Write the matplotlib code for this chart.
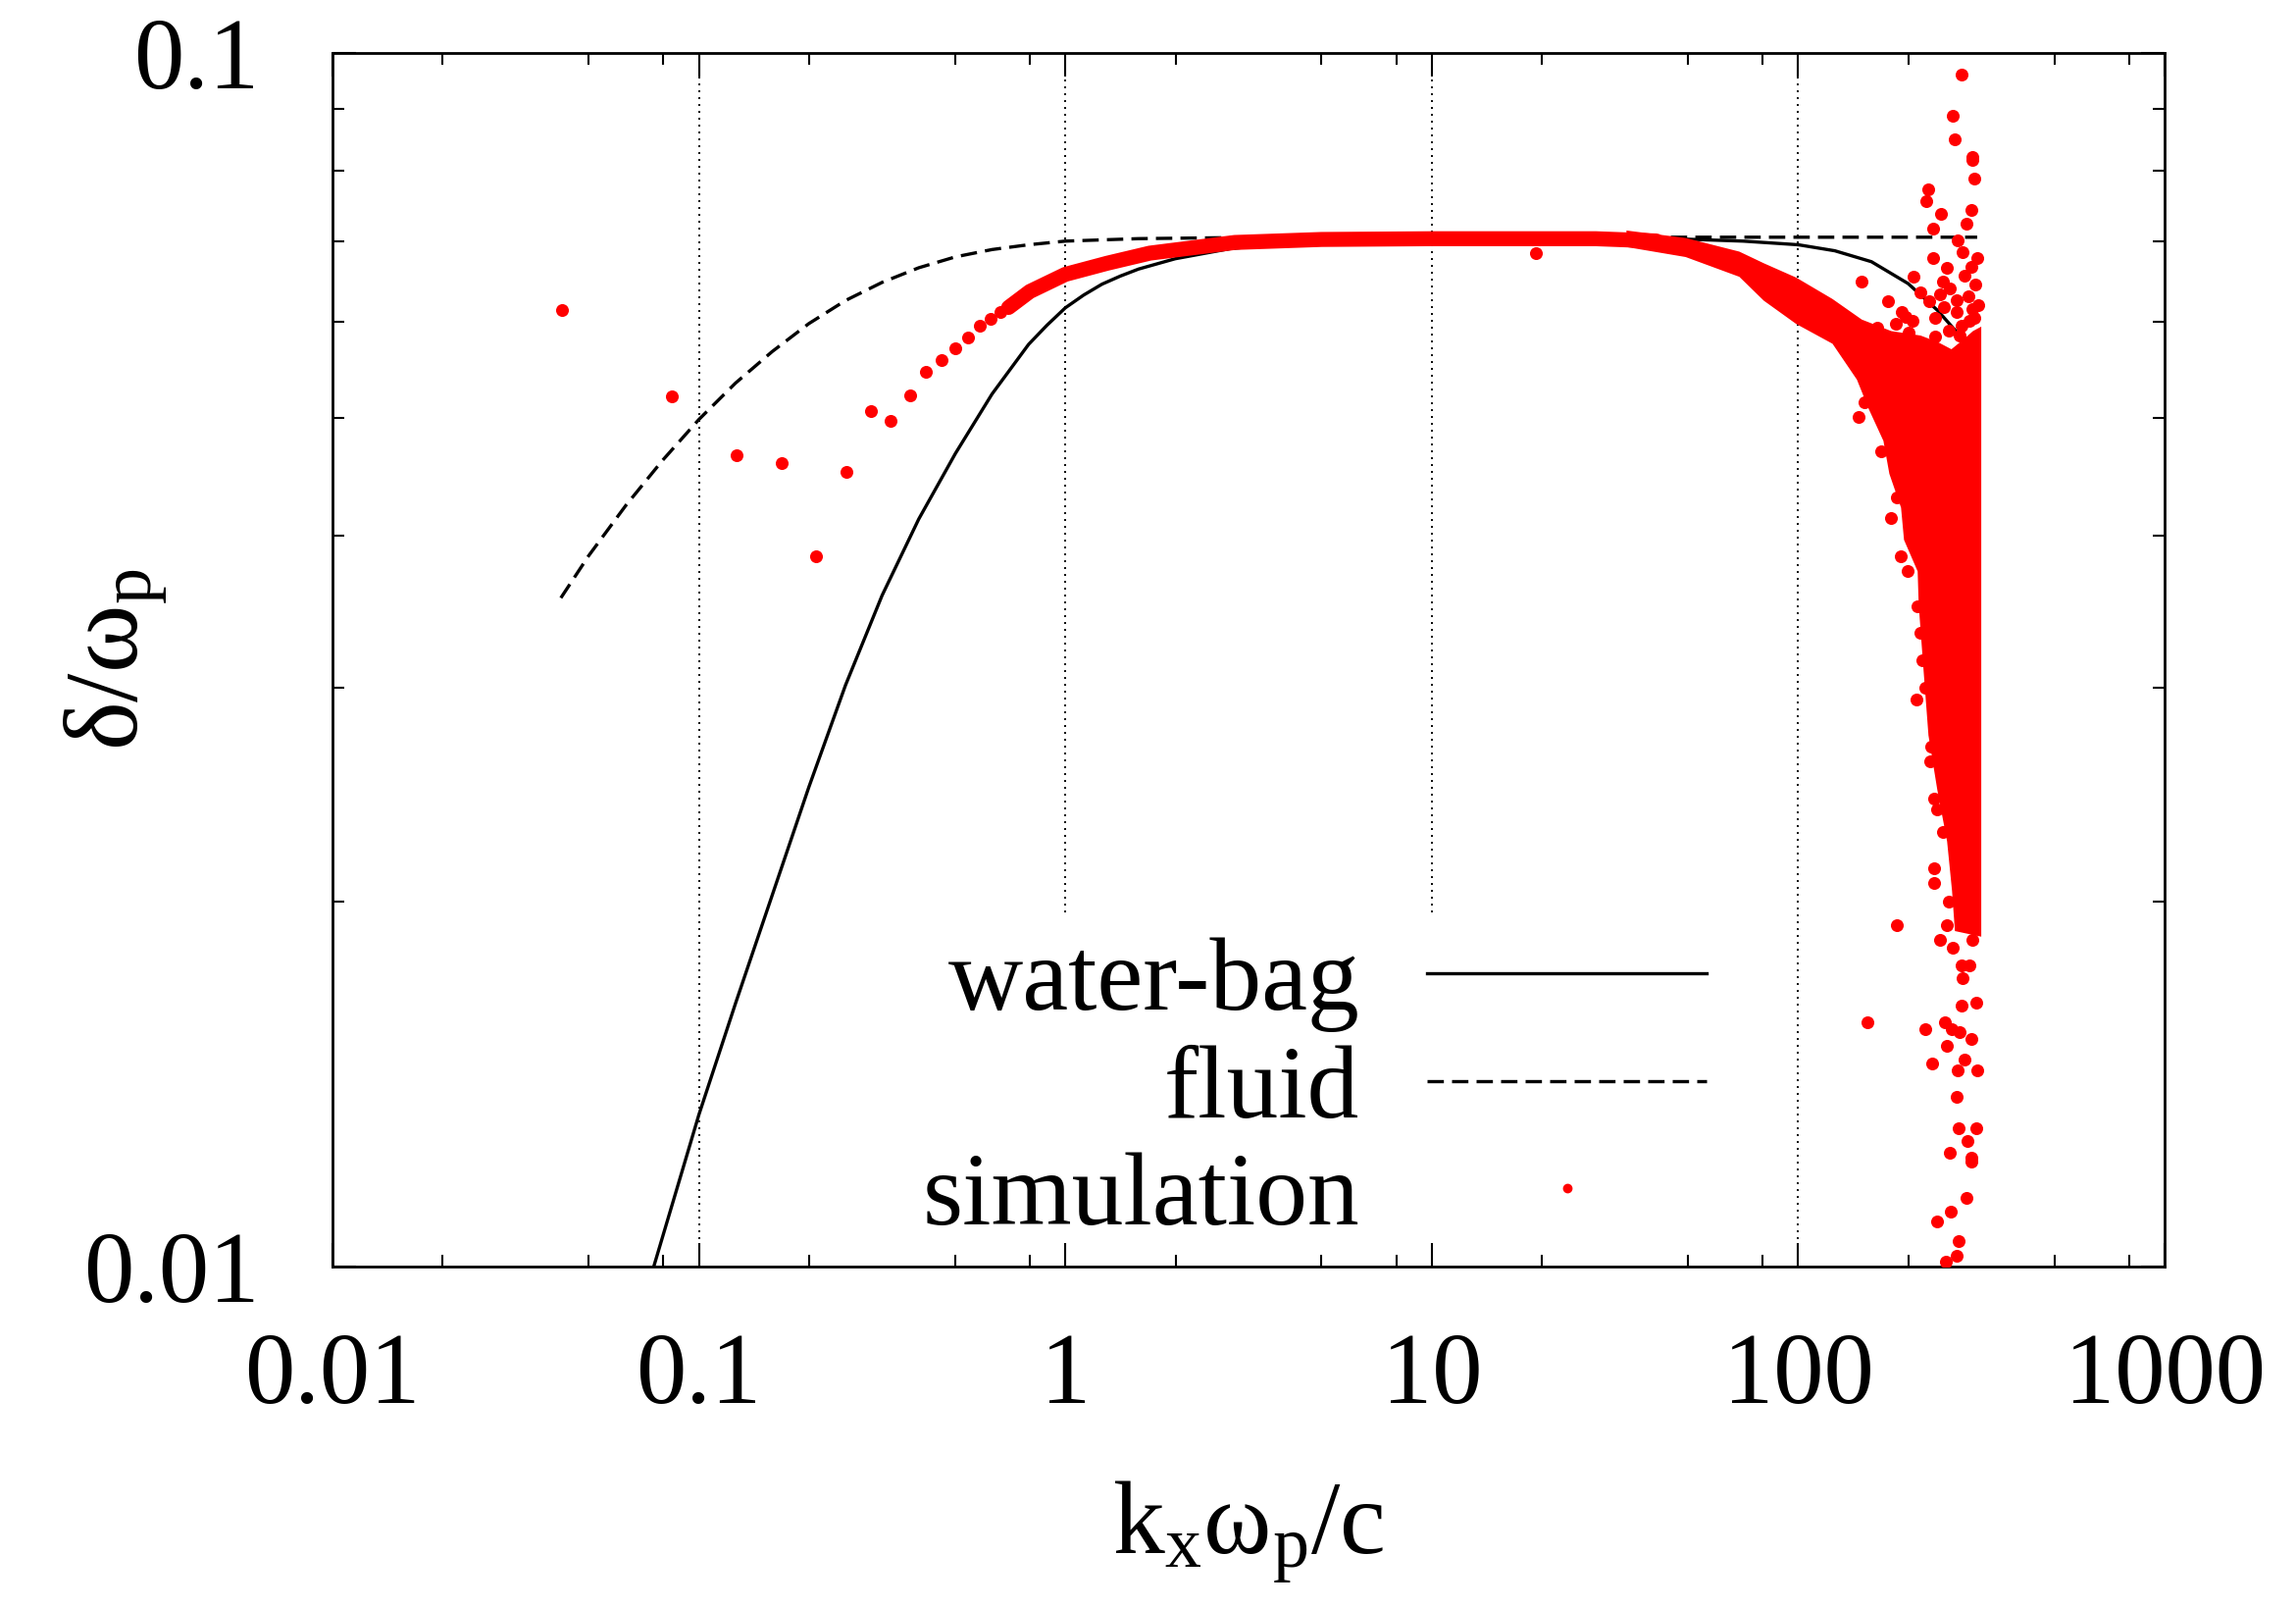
import matplotlib
matplotlib.use("Agg")
import matplotlib.pyplot as plt
from matplotlib.ticker import LogLocator, NullFormatter

plt.rcParams['font.family'] = 'Liberation Serif'
plt.rcParams['mathtext.fontset'] = 'custom'
plt.rcParams['mathtext.rm'] = 'Liberation Serif'
plt.rcParams['mathtext.it'] = 'Liberation Serif'

# water-bag dispersion (solid)
wb_k = [0.0753, 0.1, 0.1259, 0.1585, 0.1995, 0.2512, 0.3162, 0.3981, 0.5012, 0.631,
        0.7943, 0.8913, 1.0, 1.122, 1.259, 1.413, 1.585, 1.995, 2.818, 3.981, 6.31,
        10, 31.6, 50.1, 70.8, 100, 125.9, 158.5, 199.5, 239.9, 271]
wb_y = [0.0100, 0.01334, 0.01648, 0.02023, 0.02483, 0.03013, 0.03573, 0.04130,
        0.04677, 0.05236, 0.05754, 0.05966, 0.06166, 0.06317, 0.06449, 0.06549,
        0.06637, 0.06768, 0.06899, 0.06971, 0.07016, 0.07029, 0.07039, 0.07023,
        0.06998, 0.06950, 0.06871, 0.06730, 0.06457, 0.06138, 0.05888]

# fluid dispersion (dashed)
fl_k = [0.0420, 0.0501, 0.0631, 0.0794, 0.1, 0.1259, 0.1585, 0.1995, 0.2512,
        0.3162, 0.3981, 0.5012, 0.631, 0.794, 1.0, 1.585, 3.162, 10, 100, 308]
fl_y = [0.03556, 0.03855, 0.04236, 0.04613, 0.04989, 0.05346, 0.05675, 0.05984,
        0.06252, 0.06471, 0.06653, 0.06792, 0.06887, 0.06950, 0.06998, 0.07031,
        0.07047, 0.0705, 0.0705, 0.0705]

# simulation: isolated points
sim_k = [0.0423, 0.0841, 0.1264, 0.168, 0.209, 0.252, 0.294, 0.334, 0.378, 0.417,
         0.460, 0.502, 0.543, 0.585, 0.626, 0.667, 19.3,
         279.5, 264.5, 267.8, 299.2, 299.2, 302.9, 226.8, 224.1, 245.7, 297.3,
         288.3, 233.9, 272.8, 281.3, 233.9, 308.6, 297.3, 254.9, 206.9, 149.2,
         248.8, 215.9, 244.2, 176.2, 271.1, 299.2, 196.9, 205.6, 236.8, 164.7,
         293.7, 236.8, 276.1, 299.2, 224.1, 262.9, 233.9,
         185.0, 192.0, 260.0, 285.0, 305.0, 228.0, 250.0, 270.0, 292.0, 310.0,
         200.0, 258.0, 280.0, 303.0,
         146.5, 179.5, 190.9, 199.4, 215.9, 218.6, 210.7, 229.6, 235.4, 239.8,
         235.4, 235.4, 186.3,
         152.0, 168.0, 186.0, 205.0, 212.0, 222.0, 231.0, 248.0, 258.0,
         254.9, 244.2, 264.5, 299.2, 279.5, 293.7, 281.3, 306.7, 279.5, 154.8,
         222.7, 251.8, 262.9, 276.1, 297.3, 254.9, 232.5, 284.7, 308.6, 272.8,
         271.1, 274.5, 306.7, 290.1, 259.7, 297.3, 297.3, 288.3, 261.3, 239.8,
         274.5, 271.1, 253.4]
sim_y = [0.0614, 0.0521, 0.0466, 0.0459, 0.0385, 0.0452, 0.0507, 0.0498, 0.0522,
         0.0546, 0.0558, 0.0571, 0.0583, 0.0596, 0.0604, 0.0612, 0.0684,
         0.0960, 0.0888, 0.0849, 0.0821, 0.0816, 0.0788, 0.0772, 0.0755, 0.0737,
         0.0742, 0.0723, 0.0717, 0.0701, 0.0685, 0.0678, 0.0678, 0.0666, 0.0665,
         0.0654, 0.0648, 0.0648, 0.0635, 0.0633, 0.0624, 0.0626, 0.0615, 0.0606,
         0.0602, 0.0605, 0.0594, 0.0602, 0.0584, 0.0585, 0.0574, 0.0567, 0.0556,
         0.0548,
         0.0598, 0.0612, 0.0640, 0.0655, 0.0645, 0.0625, 0.0618, 0.0612, 0.0630,
         0.0620,
         0.0588, 0.0590, 0.0596, 0.0605,
         0.0501, 0.0414, 0.0385, 0.0374, 0.0333, 0.0316, 0.0293, 0.0261, 0.0243,
         0.0238, 0.0213, 0.0207, 0.0191,
         0.0515, 0.0470, 0.0430, 0.0395, 0.0350, 0.0300, 0.0268, 0.0228, 0.0200,
         0.0191, 0.0186, 0.0183, 0.0186, 0.0177, 0.0177, 0.0173, 0.0165, 0.0164,
         0.0159, 0.0157, 0.0159, 0.0157, 0.0156, 0.0154, 0.0152, 0.0147, 0.0148,
         0.0145, 0.0145, 0.0138, 0.0130, 0.0130, 0.0127, 0.0124, 0.0123, 0.0122,
         0.0114, 0.0111, 0.0109, 0.0105, 0.0102, 0.0101]

# simulation: densely packed ridge (points overlap into a band)
ridge_k = [0.70, 0.80, 1.0, 1.3, 1.7, 2.9, 5, 10, 28, 41]
ridge_y = [0.0617, 0.0636, 0.0657, 0.0671, 0.0684, 0.0698, 0.0702, 0.0703, 0.0703, 0.0700]

# simulation: outline of the solid cloud near the grid cutoff
core_k = [34.0, 49.3, 69.1, 80.6, 98.8, 124.1, 149.2, 179.5, 215.9, 240, 262, 285,
          300, 316,
          316, 267.8, 263.0, 255.0, 239.8, 226.8, 219.9, 213.3, 211.9, 194.5,
          190.9, 177.4, 170.9, 155.8, 144.7, 124.1, 98.8, 80.6, 69.1, 49.3, 34.0]
core_y = [0.0714, 0.0704, 0.0686, 0.0671, 0.0653, 0.0627, 0.0603, 0.0590, 0.0585,
          0.0578, 0.0570, 0.0582, 0.0590, 0.0595,
          0.0187, 0.0189, 0.0204, 0.0224, 0.0247, 0.0274,
          0.0310, 0.0351, 0.0374, 0.0397, 0.0422, 0.0450, 0.0479, 0.0509, 0.0538,
          0.0576, 0.0598, 0.0625, 0.0654, 0.0679, 0.0692]

x_ticks = [0.01, 0.1, 1, 10, 100, 1000]
x_labels = ["0.01", "0.1", "1", "10", "100", "1000"]
y_ticks = [0.01, 0.1]
y_labels = ["0.01", "0.1"]
grid_x = [0.1, 1, 10, 100]

fig = plt.figure(figsize=(23.41, 16.38), dpi=100)
ax = fig.add_axes([0.14481, 0.21184, 0.79795, 0.75519])
ax.set_xscale("log")
ax.set_yscale("log")

# dotted grid; the key hides the lower part of the lines at 1 and 10
for gx in grid_x:
    low = 0.292 if gx in (1, 10) else 0.0
    ax.axvline(gx, ymin=low, ymax=1, color="black", lw=1.4,
               linestyle=(0, (1, 2.6)), zorder=1)

wb_line, = ax.plot(wb_k, wb_y, color="black", lw=2.4, zorder=2, label="water-bag")
fl_line, = ax.plot(fl_k, fl_y, color="black", lw=2.4, dashes=(5, 2.5), zorder=2,
                   label="fluid")
ax.fill(core_k, core_y, color="red", lw=0, zorder=3)
ax.plot(ridge_k, ridge_y, color="red", lw=11, solid_capstyle="round", zorder=3)
sim_pts, = ax.plot(sim_k, sim_y, "o", color="red", ms=9.4, mew=0, zorder=3,
                   label="simulation")

ax.set_xlim(0.01, 1000)
ax.set_ylim(0.01, 0.1)
ax.set_xticks(x_ticks)
ax.set_xticklabels(x_labels)
ax.set_yticks(y_ticks)
ax.set_yticklabels(y_labels)
ax.xaxis.set_minor_locator(LogLocator(base=10, subs=(2, 5, 8)))
ax.yaxis.set_minor_locator(LogLocator(base=10, subs=(2, 3, 4, 5, 6, 7, 8, 9)))
ax.xaxis.set_minor_formatter(NullFormatter())
ax.yaxis.set_minor_formatter(NullFormatter())

ax.tick_params(which="both", direction="in", top=True, right=True, width=1.5,
               labelsize=74)
ax.tick_params(which="major", length=17)
ax.tick_params(which="minor", length=8.6)
ax.tick_params(axis="x", which="major", pad=48)
ax.tick_params(axis="y", which="major", pad=54)
for s in ax.spines.values():
    s.set_linewidth(2.0)

ax.set_xlabel(r"$\mathregular{k_x\omega_p/c}$", fontsize=76)
ax.set_ylabel(r"$\mathregular{\delta/\omega_p}$", fontsize=76)
ax.xaxis.set_label_coords(0.5, -0.175)
ax.yaxis.set_label_coords(-0.089, 0.5)

leg = ax.legend([wb_line, fl_line, sim_pts], ["water-bag", "fluid", "simulation"],
                loc="lower right", bbox_to_anchor=(0.75, 0.016), markerfirst=False,
                fontsize=76, handlelength=2.7, handletextpad=0.65, labelspacing=0.12,
                markerscale=0.75, frameon=False, borderpad=0, borderaxespad=0)
leg.set_zorder(5)

fig.savefig("out.png", dpi=100)
